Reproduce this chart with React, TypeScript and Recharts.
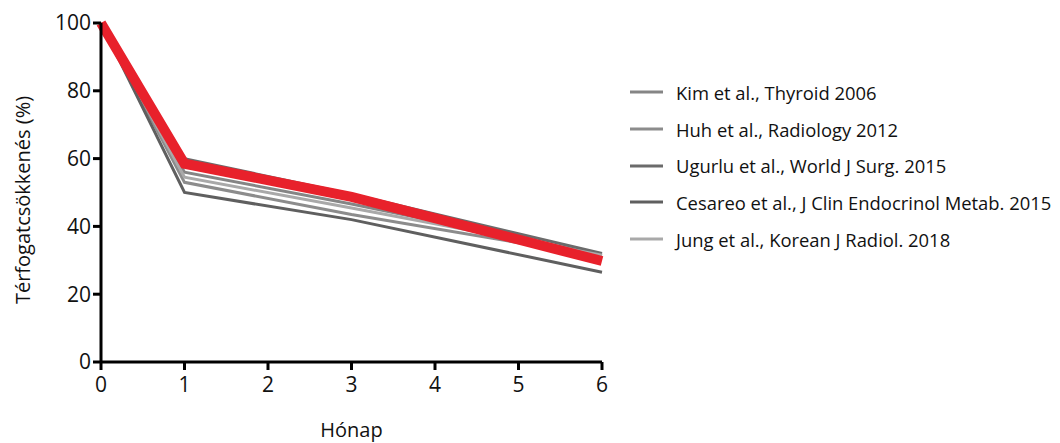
import React from "react";
import { LineChart, Line, XAxis, YAxis, Label } from "recharts";

const months = [0, 1, 3, 6];
const kim = [100, 56, 46.6, 31.5];
const huh = [100, 53, 43.5, 31];
const ugurlu = [100, 60, 49.5, 32];
const cesareo = [100, 50, 42, 26.5];
const jung = [100, 54.5, 45.4, 31.5];
const mean = [100, 58.5, 48.7, 29.8];

const xTicks = [0, 1, 2, 3, 4, 5, 6];
const yTicks = [0, 20, 40, 60, 80, 100];

const seriesDefs = [
  { key: "kim", name: "Kim et al., Thyroid 2006", values: kim, color: "#858585" },
  { key: "huh", name: "Huh et al., Radiology 2012", values: huh, color: "#8c8c8c" },
  { key: "ugurlu", name: "Ugurlu et al., World J Surg. 2015", values: ugurlu, color: "#6b6b6b" },
  { key: "cesareo", name: "Cesareo et al., J Clin Endocrinol Metab. 2015", values: cesareo, color: "#5f5f5f" },
  { key: "jung", name: "Jung et al., Korean J Radiol. 2018", values: jung, color: "#a9a9a9" },
];

const data = months.map((m, i) => {
  const row: Record<string, number> = { month: m, mean: mean[i] };
  seriesDefs.forEach((s) => {
    row[s.key] = s.values[i];
  });
  return row;
});

const FONT = "'Open Sans', sans-serif";

const XLabel = (props: any) => {
  const vb = props.viewBox || {};
  return (
    <text
      x={vb.x + vb.width / 2}
      y={vb.y + 75}
      textAnchor="middle"
      fill="#111"
      fontSize={20}
      fontFamily={FONT}
    >
      Hónap
    </text>
  );
};

const YLabel = () => {
  const cx = 22;
  const cy = 200;
  return (
    <text
      x={cx}
      y={cy}
      transform={`rotate(-90, ${cx}, ${cy})`}
      textAnchor="middle"
      dominantBaseline="central"
      fill="#111"
      fontSize={20}
      fontFamily={FONT}
    >
      Térfogatcsökkenés (%)
    </text>
  );
};

export default function App() {
  return (
    <div style={{ position: "absolute", left: 0, top: 0, width: 1060, height: 443, background: "#fff" }}>
      <LineChart
        width={1060}
        height={443}
        data={data}
        margin={{ top: 23, right: 458, bottom: 0, left: 0 }}
      >
        <XAxis
          dataKey="month"
          type="number"
          domain={[0, 6]}
          ticks={xTicks}
          axisLine={{ stroke: "#000", strokeWidth: 3 }}
          tickLine={{ stroke: "#000", strokeWidth: 3 }}
          tickSize={8}
          tick={{ fill: "#111", fontSize: 21, fontFamily: FONT, dy: 5 }}
          height={81}
        >
          <Label content={<XLabel />} />
        </XAxis>
        <YAxis
          type="number"
          domain={[0, 100]}
          ticks={yTicks}
          axisLine={{ stroke: "#000", strokeWidth: 3 }}
          tickLine={{ stroke: "#000", strokeWidth: 3 }}
          tickSize={8}
          tick={{ fill: "#111", fontSize: 21, fontFamily: FONT }}
          width={101}
        >
          <Label content={<YLabel />} />
        </YAxis>
        {seriesDefs.map((s) => (
          <Line
            key={s.key}
            dataKey={s.key}
            name={s.name}
            stroke={s.color}
            strokeWidth={3}
            dot={false}
            isAnimationActive={false}
          />
        ))}
        <Line
          dataKey="mean"
          name="mean"
          stroke="#e8212b"
          strokeWidth={10}
          dot={false}
          legendType="none"
          isAnimationActive={false}
        />
      </LineChart>
      <div
        style={{
          position: "absolute",
          left: 628,
          top: 74,
          fontFamily: FONT,
          fontSize: 18.4,
          color: "#111",
        }}
      >
        {seriesDefs.map((s) => (
          <div key={s.key} style={{ display: "flex", alignItems: "center", height: 36.7 }}>
            <svg width={48} height={10}>
              <line x1={2} y1={5} x2={35} y2={5} stroke={s.color} strokeWidth={3} />
            </svg>
            <span style={{ whiteSpace: "nowrap" }}>{s.name}</span>
          </div>
        ))}
      </div>
    </div>
  );
}
